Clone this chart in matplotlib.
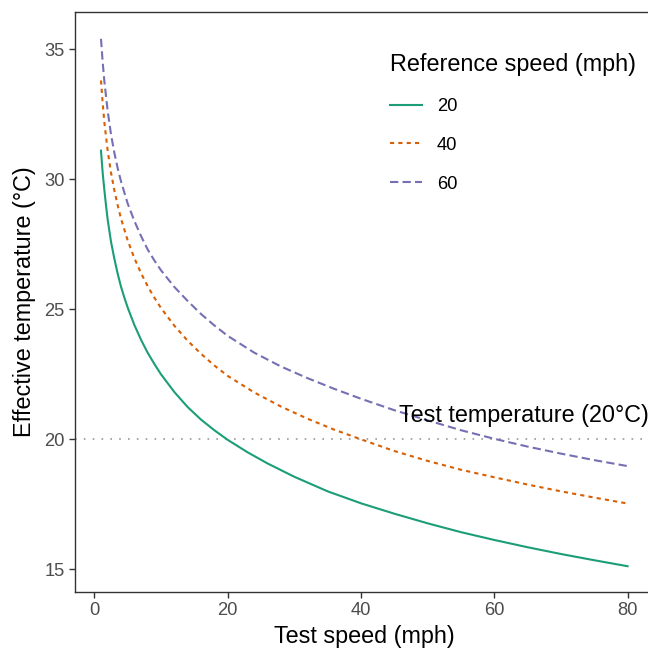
import numpy as np
import matplotlib
matplotlib.use("Agg")
import matplotlib.pyplot as plt

plt.rcParams["font.family"] = ["Liberation Sans", "DejaVu Sans"]

# Values
speed_20 = [1, 1.25, 1.5, 1.75, 2, 2.5, 3, 3.5, 4, 4.5, 5, 6, 7, 8, 9, 10, 12, 14,
            16, 18, 20, 23, 26, 30, 35, 40, 45, 50, 55, 60, 65, 70, 75, 80]
temp_20 = [31.1, 30.25, 29.6, 29.0, 28.45, 27.6, 26.95, 26.37, 25.87, 25.45, 25.07,
           24.4, 23.83, 23.33, 22.9, 22.5, 21.82, 21.24, 20.76, 20.35, 19.98, 19.5,
           19.07, 18.56, 18.0, 17.54, 17.14, 16.77, 16.43, 16.13, 15.85, 15.59,
           15.35, 15.12]

speed_40 = [1, 1.25, 1.5, 2, 2.5, 3, 3.5, 4, 5, 6, 7, 8, 9, 10, 12, 14, 16, 18, 20,
            24, 28, 32, 36, 40, 45, 50, 55, 60, 65, 70, 75, 80]
temp_40 = [33.8, 32.93, 32.2, 31.1, 30.26, 29.58, 29.0, 28.49, 27.65, 26.97, 26.39,
           25.89, 25.45, 25.05, 24.37, 23.79, 23.29, 22.84, 22.44, 21.8, 21.26,
           20.79, 20.37, 20.0, 19.55, 19.17, 18.83, 18.54, 18.26, 18.0, 17.76, 17.53]

speed_60 = [1, 1.25, 1.5, 2, 2.5, 3, 3.5, 4, 5, 6, 7, 8, 9, 10, 12, 14, 16, 18, 20,
            24, 28, 32, 36, 40, 45, 50, 55, 60, 65, 70, 75, 80]
temp_60 = [35.4, 34.51, 33.78, 32.63, 31.73, 31.02, 30.43, 29.92, 29.07, 28.4,
           27.82, 27.3, 26.88, 26.5, 25.86, 25.32, 24.82, 24.38, 23.98, 23.33, 22.8,
           22.35, 21.94, 21.56, 21.12, 20.73, 20.35, 20.02, 19.72, 19.45, 19.2, 18.97]

ref_labels = ["20", "40", "60"]
colors = ["#1B9E77", "#D95F02", "#7570B3"]
styles = ["-", (0, (2, 2)), (0, (4, 2))]
test_temp = 20

W, H = 648, 652
fig = plt.figure(figsize=(W / 100, H / 100), dpi=100)
ax = fig.add_axes([75 / W, (H - 591.7) / H, (654 - 75) / W, (591.7 - 12.3) / H])

ax.axhline(test_temp, color="#999999", lw=1.2, ls=(0, (1, 4.3)), zorder=1)

series = [(speed_20, temp_20), (speed_40, temp_40), (speed_60, temp_60)]
for (sx, sy), lab, c, ls in zip(series, ref_labels, colors, styles):
    ax.plot(sx, sy, color=c, ls=ls, lw=1.5, label=lab, zorder=2)

ax.text(45.7, 20.68, "Test temperature (20°C)", fontsize=16.8, ha="left",
        va="baseline", color="black")

ax.set_xlim(-2.9, 83.97)
ax.set_ylim(14.14, 36.42)
ax.set_xticks([0, 20, 40, 60, 80])
ax.set_yticks([15, 20, 25, 30, 35])
ax.tick_params(length=4.5, width=1, color="#333333", labelcolor="#4D4D4D",
               labelsize=13.2, pad=3)
for sp in ax.spines.values():
    sp.set_color("#333333")
    sp.set_linewidth(1)

ax.set_xlabel("Test speed (mph)", fontsize=16.8, labelpad=4)
ax.set_ylabel("Effective temperature (°C)", fontsize=16.8, labelpad=6)

leg = ax.legend(title="Reference speed (mph)", frameon=False, fontsize=13.2,
                title_fontsize=16.8, loc="upper left",
                bbox_to_anchor=(381 / W, 1 - 44 / H), bbox_transform=fig.transFigure,
                handlelength=1.75, handletextpad=0.8, labelspacing=1.19,
                alignment="left", borderpad=0)

fig.savefig("out.png", dpi=100)
